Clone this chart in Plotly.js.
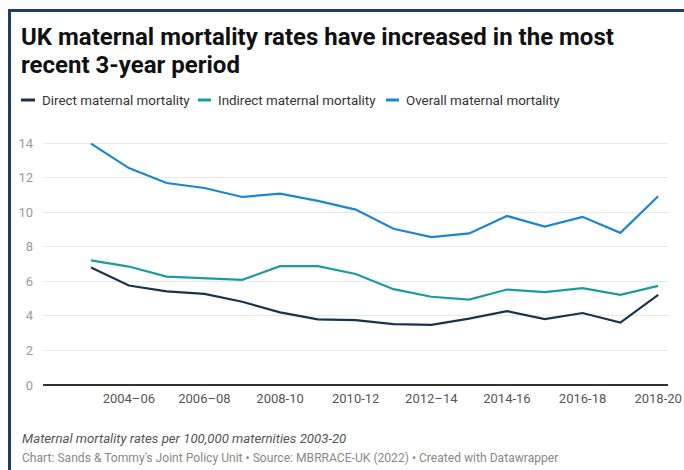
<!DOCTYPE html>
<html>
<head>
<meta charset="utf-8">
<script src="https://cdn.plot.ly/plotly-3.0.1.min.js"></script>
<style>
  html, body { margin: 0; padding: 0; background: #fff; }
  #wrap { position: relative; width: 684px; height: 470px; overflow: hidden; }
  #chart { position: absolute; left: 0; top: 0; width: 684px; height: 470px; }
  #frame { position: absolute; left: 8px; top: 9px; width: 700px; height: 500px;
           border-top: 3px solid #1c3c73; border-left: 3px solid #1c3c73; pointer-events: none; }
</style>
</head>
<body>
<div id="wrap">
  <div id="chart"></div>
  <div id="frame"></div>
</div>
<script>
// ---- data ----
const periods = ['2003–05','2004–06','2005–07','2006–08','2007–09','2008-10','2009-11','2010-12',
                 '2011–13','2012–14','2013-15','2014-16','2015-17','2016-18','2017-19','2018-20'];
const tickLabels = ['2004–06','2006–08','2008-10','2010-12','2012–14','2014-16','2016-18','2018-20'];
const direct   = [6.80, 5.76, 5.42, 5.28, 4.82, 4.21, 3.80, 3.76, 3.53, 3.48, 3.84, 4.28, 3.82, 4.17, 3.61, 5.22];
const indirect = [7.22, 6.86, 6.28, 6.18, 6.09, 6.88, 6.88, 6.43, 5.55, 5.11, 4.95, 5.53, 5.38, 5.61, 5.22, 5.74];
const overall  = [13.98, 12.56, 11.70, 11.41, 10.89, 11.08, 10.66, 10.16, 9.05, 8.57, 8.78, 9.79, 9.18, 9.74, 8.81, 10.93];
const seriesNames = ['Direct maternal mortality', 'Indirect maternal mortality', 'Overall maternal mortality'];
const yTicks = [0, 2, 4, 6, 8, 10, 12, 14];

const colors = ['#17344f', '#1a9c9e', '#1b86d2'];
const FONT = 'Roboto, "Noto Sans", sans-serif';

// pixel helpers for the 684x470 canvas
const L = 43, R = 668, T = 126, B = 385;
const px = X => (X - L) / (R - L);
const py = Y => (B - Y) / (B - T);

const traces = [direct, indirect, overall].map((vals, i) => ({
  type: 'scatter', mode: 'lines', x: periods, y: vals, name: seriesNames[i],
  line: { color: colors[i], width: 2.2 }, showlegend: false, hoverinfo: 'skip'
}));

const legendX = [[21, 35, 40], [198, 211, 216], [386, 399, 404]];
const shapes = legendX.map((p, i) => ({
  type: 'line', xref: 'paper', yref: 'paper', x0: px(p[0]), x1: px(p[1]), y0: py(100), y1: py(100),
  line: { color: colors[i], width: 3 }
}));
const annotations = [
  { text: '<b>UK maternal mortality rates have increased in the most</b>', x: px(19), y: py(37) },
  { text: '<b>recent 3-year period</b>', x: px(19), y: py(65) }
].map(a => Object.assign(a, { xref: 'paper', yref: 'paper', xanchor: 'left', yanchor: 'middle', showarrow: false,
  font: { family: FONT, size: 24, color: '#111' } }));
legendX.forEach((p, i) => annotations.push({
  text: seriesNames[i], xref: 'paper', yref: 'paper', x: px(p[2]), y: py(100), xanchor: 'left', yanchor: 'middle',
  showarrow: false, font: { family: FONT, size: 13.4, color: '#333' }
}));
annotations.push({
  text: '<i>Maternal mortality rates per 100,000 maternities 2003-20</i>', xref: 'paper', yref: 'paper',
  x: px(20), y: py(438), xanchor: 'left', yanchor: 'middle', showarrow: false,
  font: { family: FONT, size: 13.2, color: '#555' }
});
annotations.push({
  text: 'Chart: Sands &amp; Tommy\'s Joint Policy Unit • Source: MBRRACE-UK (2022) • Created with Datawrapper',
  xref: 'paper', yref: 'paper', x: px(20), y: py(458), xanchor: 'left', yanchor: 'middle', showarrow: false,
  font: { family: FONT, size: 12.1, color: '#888' }
});

const layout = {
  width: 684, height: 470,
  margin: { l: L, r: 684 - R, t: T, b: 470 - B, pad: 0 },
  paper_bgcolor: '#fff', plot_bgcolor: '#fff',
  font: { family: FONT },
  xaxis: {
    type: 'category', categoryorder: 'array', categoryarray: periods,
    range: [-1.27, 15.26], tickvals: tickLabels, ticktext: tickLabels,
    showgrid: false, zeroline: false, showline: false, ticks: '',
    tickfont: { family: FONT, size: 13, color: '#555' }, ticklabelstandoff: 4, fixedrange: true
  },
  yaxis: {
    range: [0, 15], tickvals: yTicks, showgrid: true, gridcolor: '#e8e8e8', gridwidth: 1,
    zeroline: true, zerolinecolor: '#333', zerolinewidth: 1.6, showline: false, ticks: '',
    tickfont: { family: FONT, size: 13, color: '#9a9a9a' }, ticklabelstandoff: 9, fixedrange: true
  },
  shapes: shapes,
  annotations: annotations,
  showlegend: false
};

Plotly.newPlot('chart', traces, layout, { displayModeBar: false, staticPlot: true });
</script>
</body>
</html>
